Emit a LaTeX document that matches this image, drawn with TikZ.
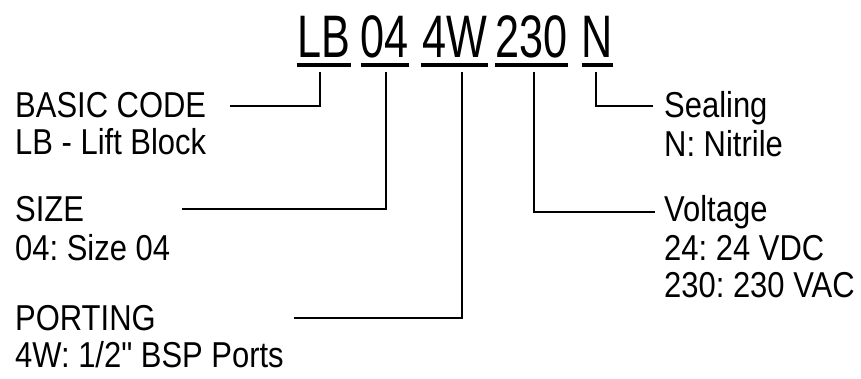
\documentclass[tikz,border=0pt]{standalone}
\usepackage{fontspec}
\setmainfont{Liberation Sans}
\newfontfamily\codefont[FakeStretch=0.72]{Liberation Sans}
\newfontfamily\labelfont[FakeStretch=0.86]{Liberation Sans}
\usetikzlibrary{positioning}
\tikzset{
  codepart/.style={
    font=\codefont\fontsize{60}{64}\selectfont,
    inner sep=0pt, anchor=base
  },
  codebar/.style={line width=4pt},
  heading/.style={
    font=\labelfont\fontsize{36}{38}\selectfont,
    inner sep=0pt, anchor=base west
  },
  lead/.style={line width=1.5pt},
}

\begin{document}
\frenchspacing
\begin{tikzpicture}[x=1pt, y=-1pt]
\useasboundingbox (0,0) rectangle (861,379);

% ordering code
\node[codepart, minimum width=54pt] (lb) at (324,58) {LB};
\node[codepart, minimum width=48pt] (sz) at (385,58) {04};
\node[codepart, minimum width=67pt] (pt) at (454.5,58) {4W};
\node[codepart, minimum width=65pt] (vt) at (531.5,58) {230};
\node[codepart, minimum width=31pt] (sl) at (597.5,58) {N};
\foreach \p in {lb,sz,pt,vt,sl}
  \draw[codebar] ([yshift=-7pt]\p.base west) -- ([yshift=-7pt]\p.base east);

% left side
\node[heading] (basic) at (15,118) {BASIC CODE};
\node[heading] (basicdesc) at (15,155) {LB - Lift Block};
\node[heading] (size) at (15,222) {SIZE};
\node[heading] (sizedesc) at (15,260) {04: Size 04};
\node[heading] (porting) at (15,330) {PORTING};
\node[heading] (portdesc) at (15,367.5) {4W: 1/2" BSP Ports};

% right side
\node[heading] (sealing) at (664,118) {Sealing};
\node[heading] (sealdesc) at (664,157) {N: Nitrile};
\node[heading] (voltage) at (664,222) {Voltage};
\node[heading] (voltdc) at (664,260) {24: 24 VDC};
\node[heading] (voltac) at (664,297) {230: 230 VAC};

% leaders
\coordinate (basicend) at (230,106);
\coordinate (sizeend) at (182,209);
\coordinate (portend) at (294,318);
\coordinate (voltend) at (655,212);
\coordinate (sealend) at (653,106);
\draw[lead] ([xshift=-4pt,yshift=-14pt]lb.base) |- (basicend);
\draw[lead] ([xshift=1pt,yshift=-14pt]sz.base) |- (sizeend);
\draw[lead] ([xshift=7.5pt,yshift=-14pt]pt.base) |- (portend);
\draw[lead] ([xshift=2.5pt,yshift=-14pt]vt.base) |- (voltend);
\draw[lead] ([xshift=-1.5pt,yshift=-14pt]sl.base) |- (sealend);

\end{tikzpicture}
\end{document}
